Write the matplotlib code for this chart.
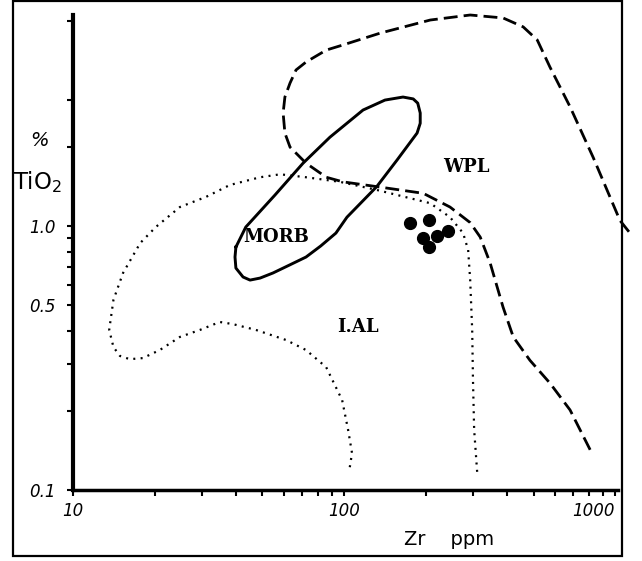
import matplotlib
matplotlib.use('Agg')
import matplotlib.pyplot as plt
from matplotlib.patches import Rectangle

# WPL field boundary (dashed), Zr ppm vs TiO2 %
wpl_zr = [809, 682, 575, 485, 421, 386, 346, 318, 292, 246,
          196, 132, 99, 86, 72.4, 63.2, 60.5, 59.6, 60.5, 63.2,
          66.5, 72.4, 86, 99, 136, 208, 292, 386, 458, 516,
          575, 682, 830, 1042, 1135]
wpl_ti = [0.142, 0.201, 0.254, 0.310, 0.380, 0.493, 0.724, 0.908, 1.03, 1.18,
          1.33, 1.41, 1.47, 1.53, 1.73, 1.99, 2.25, 2.68, 3.08, 3.48,
          3.90, 4.18, 4.64, 4.85, 5.38, 6.03, 6.30, 6.14, 5.68, 5.07,
          4.0, 2.83, 1.82, 1.05, 0.94]

# IAL field boundary (dotted)
ial_zr = [105, 107, 103.5, 98.4, 85.9, 72.4, 61.1, 47.3, 38.9, 34.8,
          29.4, 24.8, 20.9, 18.1, 16.2, 14.9, 14.1, 13.6, 14.1, 15.3,
          17.7, 20.2, 24.8, 31.0, 37.9, 49.0, 58.1, 72.4, 96.6, 132,
          208, 246, 275, 287, 292, 297, 299, 302, 310]
ial_ti = [0.122, 0.138, 0.169, 0.219, 0.292, 0.339, 0.370, 0.404, 0.425, 0.433,
          0.404, 0.380, 0.339, 0.316, 0.313, 0.322, 0.348, 0.404, 0.525, 0.664,
          0.862, 0.991, 1.18, 1.29, 1.43, 1.53, 1.57, 1.53, 1.47, 1.37,
          1.22, 1.08, 0.94, 0.811, 0.624, 0.404, 0.261, 0.169, 0.116]

# MORB field (solid closed loop)
morb_zr = [39.9, 39.6, 39.9, 42.4, 45.0, 49.0, 54.7, 63.0, 72.4, 82.0,
           93.3, 102.5, 132, 157, 186, 191, 191, 187, 180, 165,
           141.6, 117.5, 88.7, 70.6, 55.6, 43.4, 39.9]
morb_ti = [0.832, 0.763, 0.693, 0.641, 0.624, 0.635, 0.664, 0.712, 0.763, 0.84,
           0.94, 1.08, 1.41, 1.78, 2.25, 2.45, 2.68, 2.92, 3.03, 3.08,
           3.0, 2.75, 2.17, 1.73, 1.31, 0.991, 0.832]

# samples
samp_zr = [175, 206, 196, 220, 242, 206]
samp_ti = [1.03, 1.05, 0.901, 0.916, 0.957, 0.832]

x_major = [10, 100, 1000]
x_major_lab = ['10', '100', '1000']
x_minor = [20, 30, 40, 50, 60, 70, 80, 90, 200, 300, 400, 500, 600, 700, 800, 900]
y_major = [0.1, 0.5, 1.0]
y_major_lab = ['0.1', '0.5', '1.0']
y_minor = [0.2, 0.3, 0.4, 0.6, 0.7, 0.8, 0.9, 2, 3, 6]

W, H = 642, 561
fig = plt.figure(figsize=(W / 100, H / 100), dpi=100)
ax = fig.add_axes([73 / W, 71 / H, 545 / W, 475 / H])
ax.set_xscale('log')
ax.set_yscale('log')
ax.set_xlim(10, 1025)
ax.set_ylim(0.1, 6.3)

for s in ['top', 'right']:
    ax.spines[s].set_visible(False)
ax.spines['left'].set_linewidth(3)
ax.spines['bottom'].set_linewidth(2.5)

ax.set_xticks(x_major)
ax.set_xticklabels(x_major_lab)
ax.set_xticks(x_minor, minor=True)
ax.set_xticklabels([], minor=True)
ax.set_yticks(y_major)
ax.set_yticklabels(y_major_lab)
ax.set_yticks(y_minor, minor=True)
ax.set_yticklabels([], minor=True)
ax.tick_params(which='both', direction='out', length=4.5, width=1.5)
ax.tick_params(axis='x', which='major', pad=4)
ax.tick_params(axis='y', which='major', pad=8)
for lab in ax.get_xticklabels() + ax.get_yticklabels():
    lab.set_fontstyle('italic')
    lab.set_fontsize(12)
ax.get_xticklabels()[-1].set_horizontalalignment('right')

ax.plot(wpl_zr, wpl_ti, color='black', lw=2.0, linestyle=(0, (5, 2.2)),
        clip_on=False)
ax.plot(ial_zr, ial_ti, color='black', lw=1.6, linestyle=(0, (0.9, 2.4)))
ax.plot(morb_zr, morb_ti, color='black', lw=2.1, solid_joinstyle='round')
ax.plot(samp_zr, samp_ti, 'o', color='black', markersize=8.5)

lab_font = dict(family='DejaVu Serif', fontweight='bold', fontsize=13,
                ha='center', va='center')
ax.text(282, 1.67, 'WPL', **lab_font)
ax.text(56.1, 0.908, 'MORB', **lab_font)
ax.text(112.7, 0.414, 'I.AL', **lab_font)

ax.set_xlabel('Zr    ppm', fontsize=14)
ax.xaxis.set_label_coords((449 - 73) / 545, -0.085)

fig.text(39 / W, 1 - 140 / H, '%', fontsize=14, ha='center', va='center',
         fontstyle='italic')
fig.text(38 / W, 1 - 182 / H, 'TiO$_2$', fontsize=16.5, ha='center', va='center')

fig.add_artist(Rectangle((13 / W, 1 - 556 / H), 609 / W, 555 / H,
                         transform=fig.transFigure, fill=False,
                         edgecolor='black', linewidth=1.6))

fig.savefig('out.png', dpi=100)
